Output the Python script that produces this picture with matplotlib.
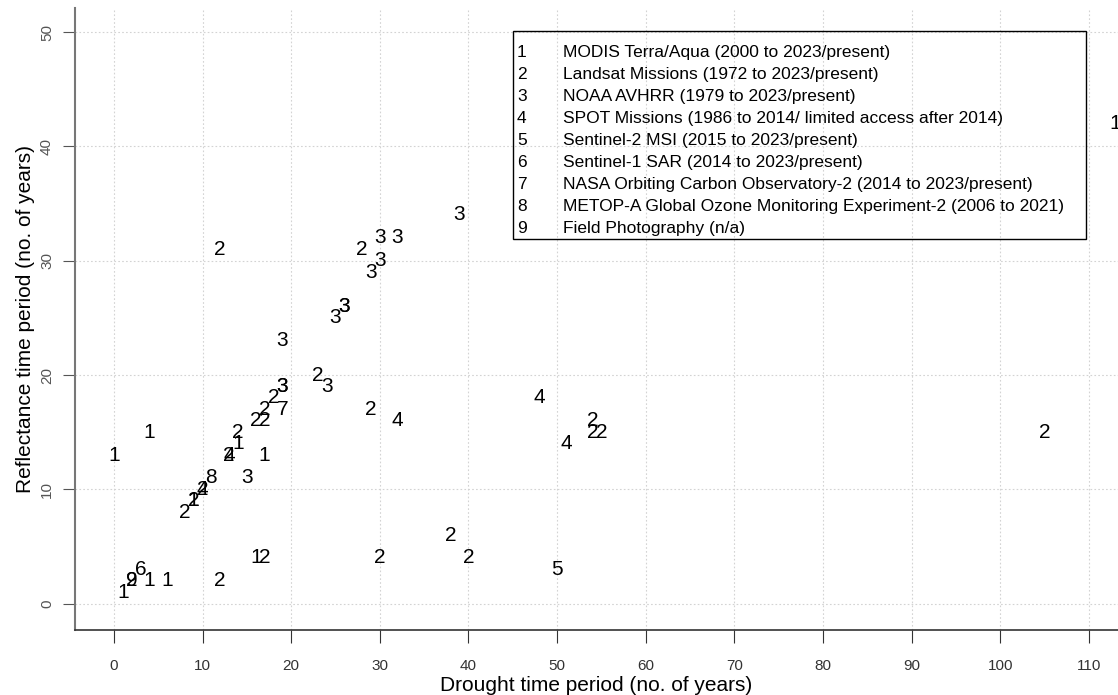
import matplotlib.pyplot as plt
from matplotlib.patches import Rectangle

# drought period vs reflectance period per study, labelled by sensor code
drought = [0, 4, 1, 2, 2, 3, 4, 6, 12, 16, 17, 8, 9, 9, 10, 10, 11, 13, 13, 14,
           14, 17, 15, 16, 17, 17, 18, 19, 19, 19, 12, 19, 23, 24, 29, 32, 25, 26, 26, 28,
           30, 32, 30, 29, 39, 48, 54, 54, 55, 51, 38, 40, 30, 50, 105, 113]
reflect = [13, 15, 1, 2, 2, 3, 2, 2, 2, 4, 4, 8, 9, 9, 10, 10, 11, 13, 13, 14,
           15, 13, 11, 16, 16, 17, 18, 17, 19, 19, 31, 23, 20, 19, 17, 16, 25, 26, 26, 31,
           32, 32, 30, 29, 34, 18, 16, 15, 15, 14, 6, 4, 4, 3, 15, 42]
sensor = [1, 1, 1, 2, 9, 6, 1, 1, 2, 1, 2, 2, 2, 1, 2, 4, 8, 2, 4, 1,
          2, 1, 3, 2, 2, 2, 2, 7, 3, 3, 2, 3, 2, 3, 2, 4, 3, 3, 3, 2,
          3, 3, 3, 3, 3, 4, 2, 2, 2, 4, 2, 2, 2, 5, 2, 1]

sensor_names = [
    "MODIS Terra/Aqua (2000 to 2023/present)",
    "Landsat Missions (1972 to 2023/present)",
    "NOAA AVHRR (1979 to 2023/present)",
    "SPOT Missions (1986 to 2014/ limited access after 2014)",
    "Sentinel-2 MSI (2015 to 2023/present)",
    "Sentinel-1 SAR (2014 to 2023/present)",
    "NASA Orbiting Carbon Observatory-2 (2014 to 2023/present)",
    "METOP-A Global Ozone Monitoring Experiment-2 (2006 to 2021)",
    "Field Photography (n/a)",
]

plt.rcParams['font.family'] = ['Liberation Sans', 'DejaVu Sans']

fig = plt.figure(figsize=(11.18, 6.95), dpi=100)
ax = fig.add_axes([0.067, 0.0935, 0.933, 0.895])

for x, y, s in zip(drought, reflect, sensor):
    ax.text(x, y, str(s), ha='center', va='center', fontsize=15, clip_on=True)

ax.set_xlim(-4.4, 113.3)
ax.set_ylim(-2.3, 52.1)
ax.set_xticks(range(0, 111, 10))
ax.set_yticks(range(0, 51, 10))
ax.grid(True, color='#d3d3d3', linestyle=(0, (1.5, 2)), linewidth=0.8)
ax.set_axisbelow(True)

for side in ['top', 'right']:
    ax.spines[side].set_visible(False)
ax.spines['left'].set_color('#777777')
ax.spines['left'].set_linewidth(1.5)
ax.spines['bottom'].set_color('#333333')
ax.spines['bottom'].set_linewidth(1.2)

ax.tick_params(axis='x', direction='out', length=9, pad=12, labelsize=11,
               labelcolor='#333333', color='#333333')
ax.tick_params(axis='y', direction='out', length=9, pad=6, labelsize=11,
               labelcolor='#555555', color='#555555')
for lab in ax.get_yticklabels():
    lab.set_rotation(90)
    lab.set_va('center')

ax.set_xlabel('Drought time period (no. of years)', fontsize=15, labelpad=2)
ax.set_ylabel('Reflectance time period (no. of years)', fontsize=15, labelpad=4)

# key of sensor codes
W, H = 1118, 695
fig.patches.append(Rectangle((513 / W, 1 - 239 / H), (1086 - 513) / W, (239 - 31) / H,
                             transform=fig.transFigure, fill=False,
                             edgecolor='black', linewidth=1))
for i, name in enumerate(sensor_names):
    yy = 1 - (57 + 22 * i) / H
    fig.text(517 / W, yy, str(i + 1), fontsize=12.5, va='baseline', ha='left')
    fig.text(563 / W, yy, name, fontsize=12.5, va='baseline', ha='left')

fig.savefig('out.png', dpi=100)
